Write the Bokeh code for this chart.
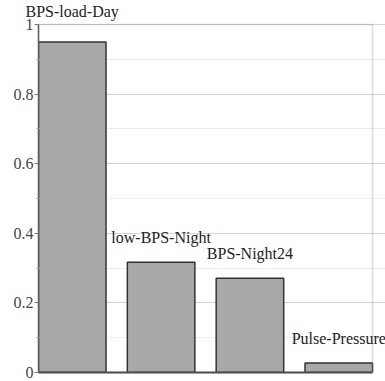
from bokeh.plotting import figure
from bokeh.models import ColumnDataSource, Label, FixedTicker, Range1d, BoxAnnotation
from bokeh.embed import file_html
from bokeh.resources import INLINE

categories = ["BPS-load-Day", "low-BPS-Night", "BPS-Night24", "Pulse-Pressure"]
values = [0.95, 0.317, 0.271, 0.027]
y_ticks = [0, 0.2, 0.4, 0.6, 0.8, 1.0]
y_minor = [0.1, 0.3, 0.5, 0.7, 0.9]
y_tick_labels = ["0", "0.2", "0.4", "0.6", "0.8", "1"]

BAR_W = 0.76
X0, X1 = -0.38, 3.38   # plot box edges in data units
Y0, Y1 = 0.0, 1.0
FONT = "Liberation Serif, Times New Roman, serif"

xs = list(range(len(categories)))
src = ColumnDataSource(dict(x=xs, top=values, name=categories))

p = figure(width=385, height=381, output_backend="svg", toolbar_location=None,
           x_range=Range1d(X0, 3.526), y_range=Range1d(Y0, 1.0144),
           min_border_left=38, min_border_right=0, min_border_top=0, min_border_bottom=9)
p.background_fill_color = "white"
p.border_fill_color = "white"
p.outline_line_color = None

# the first bar's label sits above the plot box and left of the axis,
# so it is drawn as the (left-aligned) title, which is not clipped to the frame
p.title.text = categories[0]
p.title.align = "left"
p.title.offset = -13
p.title.standoff = 0
p.title.text_font = FONT
p.title.text_font_size = "16px"
p.title.text_font_style = "normal"
p.title.text_color = "#222222"

p.xgrid.grid_line_color = None
p.ygrid.grid_line_color = "#d2d2d2"
p.ygrid.minor_grid_line_color = "#ededed"
p.ygrid.ticker = FixedTicker(ticks=y_ticks, minor_ticks=y_minor)

box = BoxAnnotation(left=X0, right=X1, bottom=Y0, top=Y1, fill_alpha=0,
                    line_color="#8a8a8a", line_width=1.5)
p.add_layout(box)

p.vbar(x="x", top="top", bottom=0, width=BAR_W, source=src,
       fill_color="#a9a9a9", line_color="#333333", line_width=1.5)

for xi, v, name in list(zip(xs, values, categories))[1:]:
    p.add_layout(Label(x=xi, y=v, text=name, y_offset=25, level="overlay",
                       text_align="center", text_baseline="middle",
                       text_font=FONT, text_font_size="16px", text_color="#222222"))

ya = p.yaxis[0]
ya.ticker = FixedTicker(ticks=y_ticks, minor_ticks=y_minor)
ya.bounds = (Y0, Y1)
ya.major_label_overrides = {t: l for t, l in zip(y_ticks, y_tick_labels)}
ya.major_label_text_font = FONT
ya.major_label_text_font_size = "16px"
ya.major_label_text_color = "#444444"
ya.major_label_standoff = 1
ya.axis_line_color = "#555555"
ya.axis_line_width = 1.5
ya.major_tick_out = 4
ya.major_tick_in = 0
ya.minor_tick_out = 2
ya.minor_tick_in = 2
ya.major_tick_line_color = "#777777"
ya.minor_tick_line_color = "#999999"

xa = p.xaxis[0]
xa.ticker = FixedTicker(ticks=[])
xa.bounds = (X0, X1)
xa.major_label_text_font_size = "0px"
xa.major_label_standoff = 0
xa.major_tick_out = 0
xa.major_tick_in = 0
xa.minor_tick_out = 0
xa.minor_tick_in = 0
xa.major_tick_line_color = None
xa.minor_tick_line_color = None
xa.axis_line_color = "#444444"
xa.axis_line_width = 2

open("out.html", "w").write(file_html(p, INLINE))
